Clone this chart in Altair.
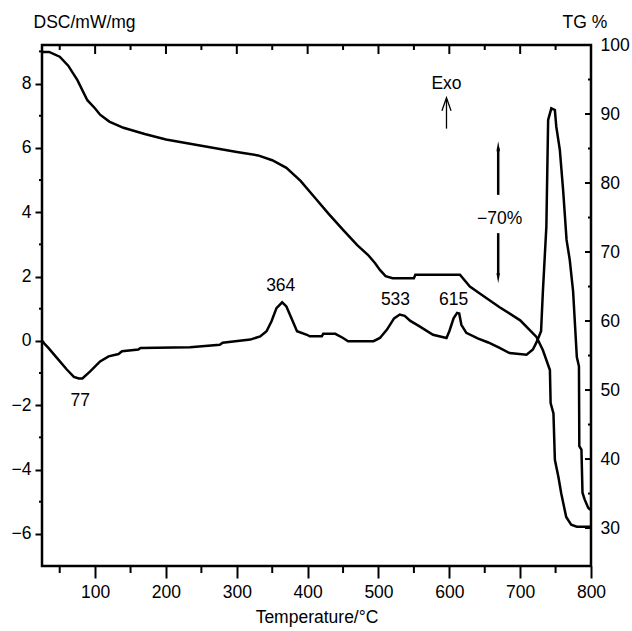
import altair as alt
import pandas as pd

FONT = "Liberation Sans"
FS = 17.5

# DSC curve (temperature °C, mW/mg)
dsc_temp = [26, 27.3, 34, 46, 60, 70, 77, 82, 93, 107, 119, 133, 138, 161, 164, 234, 276, 280,
            319, 333, 342, 349, 356, 364, 370, 377, 385, 399, 403, 420, 422, 439, 450, 457,
            493, 502, 512, 522, 530, 537, 545, 558, 577, 596, 600, 606, 611, 614, 617, 624,
            640, 655, 671, 685, 709, 718, 724, 729.5, 732, 737, 739.5, 744, 749, 751, 756,
            760.6, 765.5, 770, 774.7, 780, 783, 783.5, 786.5, 788, 791, 796, 799]
dsc_val = [0.0, -0.06, -0.22, -0.53, -0.89, -1.12, -1.17, -1.17, -0.95, -0.64, -0.48, -0.41, -0.32,
           -0.27, -0.22, -0.2, -0.12, -0.06, 0.04, 0.14, 0.3, 0.61, 1.02, 1.2, 1.07, 0.71, 0.3,
           0.19, 0.14, 0.14, 0.22, 0.22, 0.09, -0.01, -0.01, 0.09, 0.35, 0.7, 0.82, 0.78, 0.62,
           0.45, 0.19, 0.09, 0.3, 0.7, 0.87, 0.85, 0.5, 0.25, 0.08, -0.05, -0.22, -0.38, -0.43,
           -0.27, 0.0, 0.3, 1.5, 3.56, 6.87, 7.23, 7.18, 6.66, 5.94, 4.7, 3.14, 2.52, 1.55,
           -0.5, -0.79, -3.27, -3.38, -4.72, -4.93, -5.19, -5.25]

# TG curve (temperature °C, %)
tg_temp = [26, 35, 50, 62, 75, 89, 100, 107, 120, 140, 170, 200, 250, 300, 330, 350, 370, 390,
           410, 430, 450, 470, 485, 495, 502, 510, 520, 550, 552, 615, 629, 643, 671, 700, 723,
           732, 742, 743, 747, 749, 754, 758, 765, 772, 780, 800]
tg_val = [99.0, 99.0, 98.3, 97.0, 94.9, 92.0, 90.8, 89.9, 88.9, 88.0, 87.1, 86.3, 85.4, 84.5,
          84.0, 83.3, 82.2, 80.3, 77.9, 75.5, 73.2, 71.0, 69.6, 68.4, 67.4, 66.5, 66.2, 66.2,
          66.7, 66.7, 65.0, 64.0, 62.0, 60.1, 57.7, 55.8, 52.9, 48.1, 46.6, 39.9, 37.4, 35.0,
          31.6, 30.5, 30.2, 30.2]

x_major = [100, 200, 300, 400, 500, 600, 700, 800]
x_minor = [50, 150, 250, 350, 450, 550, 650, 750]
dsc_major = [-6, -4, -2, 0, 2, 4, 6, 8]
dsc_minor = [-5, -3, -1, 1, 3, 5, 7, 9]
tg_major = [30, 40, 50, 60, 70, 80, 90, 100]
tg_minor = [35, 45, 55, 65, 75, 85, 95]

peak_labels = ["77", "364", "533", "615"]
peak_x = [79, 362, 524, 606]
peak_y = [-1.86, 1.72, 1.28, 1.28]

W, H = 549, 521
xs = alt.Scale(domain=[25, 800], nice=False, zero=False)
ys_dsc = alt.Scale(domain=[-7, 9.2], nice=False, zero=False)
ys_tg = alt.Scale(domain=[24.5, 100], nice=False, zero=False)

dsc_df = pd.DataFrame({"t": dsc_temp, "v": dsc_val})
tg_df = pd.DataFrame({"t": tg_temp, "v": tg_val})

common = dict(domain=False, grid=False, labelFont=FONT, labelFontSize=FS, labelColor="black",
              labelOverlap=False, labelFlush=False, titleFont=FONT, titleFontSize=FS,
              titleFontWeight="normal", titleColor="black")

x_axis = alt.Axis(values=x_major, tickSize=12, tickWidth=2, tickColor="black",
                  labelPadding=5, title="Temperature/°C", titlePadding=8, **common)

y_axis_dsc = alt.Axis(orient="left", values=dsc_major, tickSize=7, tickWidth=2, tickColor="black",
                      labelPadding=4, title="DSC/mW/mg", titleAngle=0, titleAlign="left",
                      titleBaseline="middle", titleX=-9, titleY=-23, **common)

y_axis_tg = alt.Axis(orient="right", values=tg_major, ticks=False, labelPadding=9,
                     title="TG %", titleAngle=0, titleAlign="left", titleBaseline="middle",
                     titleX=-29, titleY=-23, **common)

dsc_line = alt.Chart(dsc_df).mark_line(color="black", strokeWidth=2.5).encode(
    x=alt.X("t:Q", scale=xs, axis=x_axis),
    y=alt.Y("v:Q", scale=ys_dsc, axis=y_axis_dsc),
)

# minor/inward ticks drawn from the tick value lists through the scales
top_major = alt.Chart(pd.DataFrame({"t": x_major})).mark_rule(color="black", strokeWidth=2).encode(
    x=alt.X("t:Q", scale=xs), y=alt.value(0), y2=alt.value(9))
top_minor = alt.Chart(pd.DataFrame({"t": x_minor})).mark_rule(color="black", strokeWidth=2).encode(
    x=alt.X("t:Q", scale=xs), y=alt.value(0), y2=alt.value(5))
bottom_minor = alt.Chart(pd.DataFrame({"t": x_minor})).mark_rule(color="black", strokeWidth=2).encode(
    x=alt.X("t:Q", scale=xs), y=alt.value(H), y2=alt.value(H + 7))
left_minor = alt.Chart(pd.DataFrame({"v": dsc_minor})).mark_rule(color="black", strokeWidth=2).encode(
    y=alt.Y("v:Q", scale=ys_dsc), x=alt.value(0), x2=alt.value(-3))

peak_text = alt.Chart(pd.DataFrame({"t": peak_x, "v": peak_y, "s": peak_labels})).mark_text(
    font=FONT, fontSize=FS, color="black", align="center", baseline="middle").encode(
    x=alt.X("t:Q", scale=xs), y=alt.Y("v:Q", scale=ys_dsc), text="s:N")

note_df = pd.DataFrame({"t": [596, 671], "v": [8.0, 3.79], "s": ["Exo", "−70%"]})
note_text = alt.Chart(note_df).mark_text(
    font=FONT, fontSize=FS, color="black", align="center", baseline="middle").encode(
    x=alt.X("t:Q", scale=xs), y=alt.Y("v:Q", scale=ys_dsc), text="s:N")

exo_df = pd.DataFrame({"t": [596], "v": [6.6], "v2": [7.52]})
exo_rule = alt.Chart(exo_df).mark_rule(color="black", strokeWidth=1.3).encode(
    x=alt.X("t:Q", scale=xs), y=alt.Y("v:Q", scale=ys_dsc), y2="v2:Q")
exo_head = alt.Chart(pd.DataFrame({"t": [596], "v": [7.36]})).mark_point(
    shape="M-0.7,1L0,-1L0.7,1", size=169, filled=False, color="black", strokeWidth=1.3, opacity=1).encode(
    x=alt.X("t:Q", scale=xs), y=alt.Y("v:Q", scale=ys_dsc))

arr_df = pd.DataFrame({"t": [669, 669], "v": [4.54, 3.35], "v2": [6.0, 2.05]})
arr_rule = alt.Chart(arr_df).mark_rule(color="black", strokeWidth=2.5).encode(
    x=alt.X("t:Q", scale=xs), y=alt.Y("v:Q", scale=ys_dsc), y2="v2:Q")
head_up = alt.Chart(pd.DataFrame({"t": [669], "v": [6.05]})).mark_point(
    shape="M-0.35,1L0,-1L0.35,1Z", size=100, filled=True, color="black", opacity=1).encode(
    x=alt.X("t:Q", scale=xs), y=alt.Y("v:Q", scale=ys_dsc))
head_down = alt.Chart(pd.DataFrame({"t": [669], "v": [1.95]})).mark_point(
    shape="M-0.35,-1L0,1L0.35,-1Z", size=100, filled=True, color="black", opacity=1).encode(
    x=alt.X("t:Q", scale=xs), y=alt.Y("v:Q", scale=ys_dsc))

dsc_group = alt.layer(dsc_line, top_major, top_minor, bottom_minor, left_minor, peak_text,
                      note_text, exo_rule, exo_head, arr_rule, head_up, head_down)

tg_line = alt.Chart(tg_df).mark_line(color="black", strokeWidth=2.5).encode(
    x=alt.X("t:Q", scale=xs),
    y=alt.Y("v:Q", scale=ys_tg, axis=y_axis_tg),
)
right_major = alt.Chart(pd.DataFrame({"v": tg_major})).mark_rule(color="black", strokeWidth=2).encode(
    y=alt.Y("v:Q", scale=ys_tg), x=alt.value(W), x2=alt.value(W - 6))
right_minor = alt.Chart(pd.DataFrame({"v": tg_minor})).mark_rule(color="black", strokeWidth=2).encode(
    y=alt.Y("v:Q", scale=ys_tg), x=alt.value(W), x2=alt.value(W - 3))

tg_group = alt.layer(tg_line, right_major, right_minor)

chart = alt.layer(dsc_group, tg_group).resolve_scale(y="independent").properties(
    width=W, height=H,
    padding={"left": 42, "top": 45, "right": 41, "bottom": 65},
    autosize=alt.AutoSizeParams(type="none"),
    background="white",
).configure_view(stroke="black", strokeWidth=2.5)

chart.save("out.html", embed_options={"renderer": "svg", "actions": False})
